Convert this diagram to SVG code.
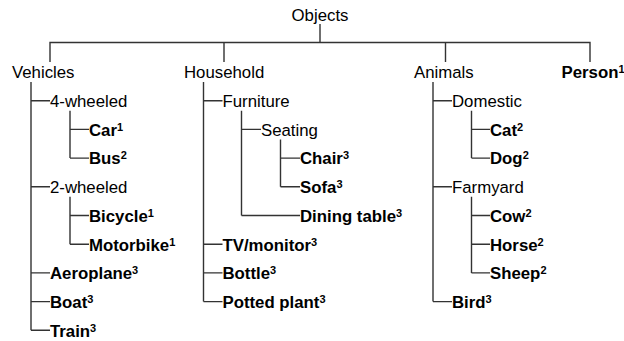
<svg xmlns="http://www.w3.org/2000/svg" width="624" height="341" viewBox="0 0 624 341">
<style>
text{font-family:"Liberation Sans",Arial,Helvetica,sans-serif;font-size:16.8px;fill:#000}
.b{font-weight:bold}
.s{font-size:11px;font-weight:bold}
.c path{fill:none;stroke:#333;stroke-width:1.4}
</style>
<rect width="624" height="341" fill="#fff"/>
<g class="c" id="connectors">
<path d="M320,24 V42.5 M50,62 V42.5 H590 V62 M224,42.5 V62 M445.5,42.5 V62"/>
<path d="M31,82 V330.3 M31,100.7 H50 M31,186.8 H50 M31,272.9 H50 M31,301.6 H50 M31,330.3 H50"/>
<path d="M70,110.7 V158.1 M70,129.4 H89 M70,158.1 H89"/>
<path d="M70,196.8 V244.2 M70,215.5 H89 M70,244.2 H89"/>
<path d="M203.5,82 V301.6 M203.5,100.7 H222.5 M203.5,244.2 H222.5 M203.5,272.9 H222.5 M203.5,301.6 H222.5"/>
<path d="M241.5,110.7 V215.5 M241.5,129.4 H261 M241.5,215.5 H300"/>
<path d="M280.5,139.4 V186.8 M280.5,158.1 H300 M280.5,186.8 H300"/>
<path d="M433,82 V301.6 M433,100.7 H452 M433,186.8 H452 M433,301.6 H452"/>
<path d="M471.5,110.7 V158.1 M471.5,129.4 H490 M471.5,158.1 H490"/>
<path d="M471.5,196.8 V272.9 M471.5,215.5 H490 M471.5,244.2 H490 M471.5,272.9 H490"/>
</g>
<g id="objects"><text x="320" y="20.5" text-anchor="middle">Objects</text></g>
<g id="vehicles"><text x="12" y="78.3">Vehicles</text></g>
<g id="four-wheeled"><text x="50" y="107">4-wheeled</text></g>
<g id="car"><text class="b" x="89" y="135.7">Car<tspan class="s" dy="-5">1</tspan></text></g>
<g id="bus"><text class="b" x="89" y="164.4">Bus<tspan class="s" dy="-5">2</tspan></text></g>
<g id="two-wheeled"><text x="50" y="193.1">2-wheeled</text></g>
<g id="bicycle"><text class="b" x="89" y="221.8">Bicycle<tspan class="s" dy="-5">1</tspan></text></g>
<g id="motorbike"><text class="b" x="89" y="250.5">Motorbike<tspan class="s" dy="-5">1</tspan></text></g>
<g id="aeroplane"><text class="b" x="50" y="279.2">Aeroplane<tspan class="s" dy="-5">3</tspan></text></g>
<g id="boat"><text class="b" x="50" y="307.9">Boat<tspan class="s" dy="-5">3</tspan></text></g>
<g id="train"><text class="b" x="50" y="336.6">Train<tspan class="s" dy="-5">3</tspan></text></g>
<g id="household"><text x="184" y="78.3">Household</text></g>
<g id="furniture"><text x="222.5" y="107">Furniture</text></g>
<g id="seating"><text x="261" y="135.7">Seating</text></g>
<g id="chair"><text class="b" x="300" y="164.4">Chair<tspan class="s" dy="-5">3</tspan></text></g>
<g id="sofa"><text class="b" x="300" y="193.1">Sofa<tspan class="s" dy="-5">3</tspan></text></g>
<g id="dining-table"><text class="b" x="300" y="221.8">Dining table<tspan class="s" dy="-5">3</tspan></text></g>
<g id="tv-monitor"><text class="b" x="222.5" y="250.5">TV/monitor<tspan class="s" dy="-5">3</tspan></text></g>
<g id="bottle"><text class="b" x="222.5" y="279.2">Bottle<tspan class="s" dy="-5">3</tspan></text></g>
<g id="potted-plant"><text class="b" x="222.5" y="307.9">Potted plant<tspan class="s" dy="-5">3</tspan></text></g>
<g id="animals"><text x="414" y="78.3">Animals</text></g>
<g id="domestic"><text x="452" y="107">Domestic</text></g>
<g id="cat"><text class="b" x="490" y="135.7">Cat<tspan class="s" dy="-5">2</tspan></text></g>
<g id="dog"><text class="b" x="490" y="164.4">Dog<tspan class="s" dy="-5">2</tspan></text></g>
<g id="farmyard"><text x="452" y="193.1">Farmyard</text></g>
<g id="cow"><text class="b" x="490" y="221.8">Cow<tspan class="s" dy="-5">2</tspan></text></g>
<g id="horse"><text class="b" x="490" y="250.5">Horse<tspan class="s" dy="-5">2</tspan></text></g>
<g id="sheep"><text class="b" x="490" y="279.2">Sheep<tspan class="s" dy="-5">2</tspan></text></g>
<g id="bird"><text class="b" x="452" y="307.9">Bird<tspan class="s" dy="-5">3</tspan></text></g>
<g id="person"><text class="b" x="561.5" y="78.3">Person<tspan class="s" dy="-5">1</tspan></text></g>
</svg>
